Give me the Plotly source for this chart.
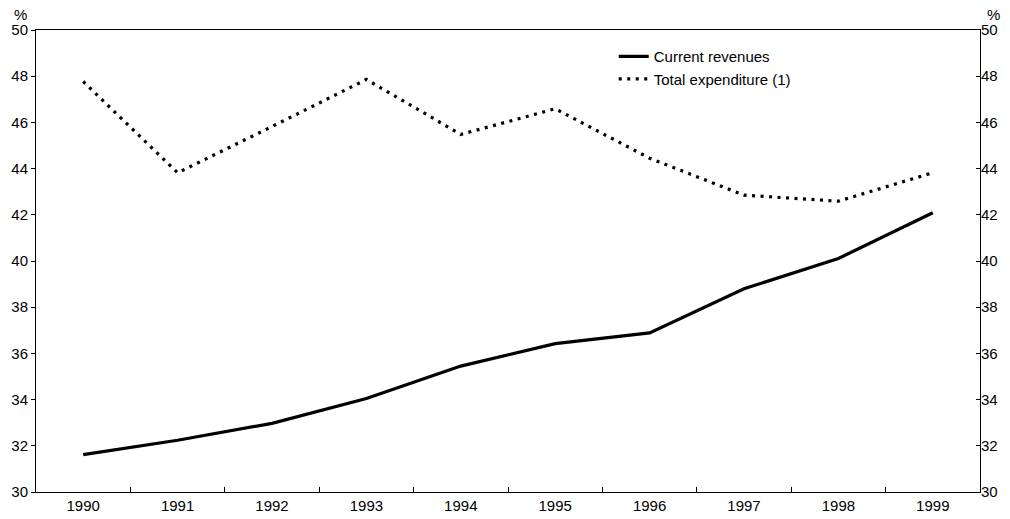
import plotly.graph_objects as go

years = ["1990", "1991", "1992", "1993", "1994", "1995", "1996", "1997", "1998", "1999"]
current_revenues = [31.62, 32.24, 32.97, 34.05, 35.45, 36.42, 36.89, 38.80, 40.11, 42.09]
total_expenditure = [47.77, 43.82, 45.82, 47.86, 45.48, 46.59, 44.45, 42.85, 42.59, 43.82]
y_ticks = [30, 32, 34, 36, 38, 40, 42, 44, 46, 48, 50]

FONT = "Liberation Sans, Arial, sans-serif"

fig = go.Figure()
fig.add_trace(go.Scatter(
    x=years, y=current_revenues, name="Current revenues", mode="lines",
    line=dict(color="black", width=3.2),
))
fig.add_trace(go.Scatter(
    x=years, y=total_expenditure, name="Total expenditure (1)", mode="lines",
    line=dict(color="black", width=3.2, dash="3px,5.5px"),
))
# invisible trace to drive the right-hand axis
fig.add_trace(go.Scatter(
    x=years, y=current_revenues, yaxis="y2", mode="lines",
    line=dict(color="rgba(0,0,0,0)"), showlegend=False, hoverinfo="skip",
))

fig.update_layout(
    width=1010, height=519,
    margin=dict(l=36, r=30, t=30, b=27, autoexpand=False),
    paper_bgcolor="white", plot_bgcolor="white",
    font=dict(family=FONT, size=15, color="black"),
    showlegend=True,
    legend=dict(x=0.612, y=0.978, xanchor="left", yanchor="top",
                bgcolor="rgba(0,0,0,0)", font=dict(size=15), tracegroupgap=0,
                itemwidth=30),
    xaxis=dict(
        type="category", range=[-0.5, 9.5], showgrid=False, automargin=False,
        showline=True, linecolor="black", linewidth=1, mirror=True,
        ticks="inside", ticklen=5, tickcolor="black", tickson="boundaries",
        tickfont=dict(size=15), zeroline=False,
    ),
    yaxis=dict(
        range=[30, 50], tickvals=y_ticks, showgrid=False, automargin=False,
        showline=True, linecolor="black", linewidth=1, mirror=True,
        ticks="outside", ticklen=4, tickcolor="black",
        tickfont=dict(size=15), zeroline=False,
    ),
    yaxis2=dict(
        range=[30, 50], tickvals=y_ticks, overlaying="y", side="right",
        showgrid=False, showline=False, automargin=False,
        ticks="inside", ticklen=4, tickcolor="black",
        tickfont=dict(size=15), zeroline=False,
    ),
    annotations=[
        dict(text="%", xref="paper", yref="paper", x=0, y=1, xshift=-16, yshift=5,
             xanchor="center", yanchor="bottom", showarrow=False, font=dict(size=15)),
        dict(text="%", xref="paper", yref="paper", x=1, y=1, xshift=13, yshift=5,
             xanchor="center", yanchor="bottom", showarrow=False, font=dict(size=15)),
    ],
)

fig.write_html("out.html", config={"displayModeBar": False},
               post_script="document.body.style.margin='0';")
